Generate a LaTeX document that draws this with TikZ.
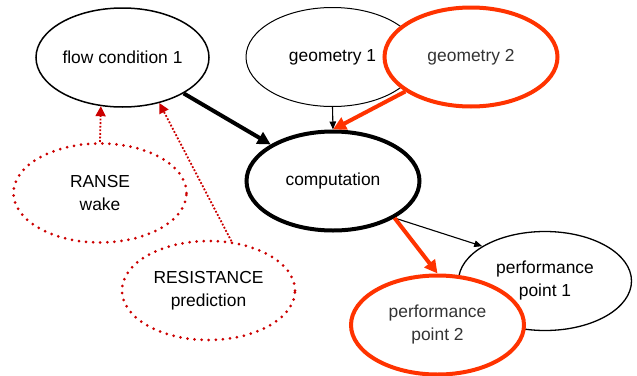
\documentclass[tikz,border=0pt]{standalone}
\usepackage{fontspec}
\setmainfont{Liberation Sans}
\usetikzlibrary{shapes.geometric,arrows.meta}
\definecolor{hot}{HTML}{FF3300}
\definecolor{study}{HTML}{CC0000}
\definecolor{pale}{HTML}{333333}

\begin{document}
\begin{tikzpicture}[x=1pt,y=-1pt,font=\fontsize{17.4}{23}\selectfont,
  bubble/.style={ellipse,draw,fill=white,minimum width=173pt,minimum height=99pt,inner sep=0pt,align=center},
  hotbubble/.style={bubble,draw=hot,line width=4pt,text=pale},
  dotbubble/.style={bubble,draw=study,line width=3pt,dash pattern=on 0pt off 7.1pt,line cap=round},
  heavy/.style={line width=4pt,-{Triangle[length=13pt,width=13pt]}},
  light/.style={line width=1.1pt,-{Triangle[length=8pt,width=6.5pt]}},
  feed/.style={study,line width=1.8pt,dash pattern=on 1.8pt off 1.8pt,-{Triangle[length=10pt,width=10pt]}}]
  \useasboundingbox (0,0) rectangle (637,375);

  \node[bubble,line width=1.5pt] (flow) at (122.5,57.5) {flow condition 1};
  \node[bubble,line width=1pt]   (geo1) at (332.5,57)   {geometry 1};
  \node[hotbubble]               (geo2) at (471,57)     {geometry 2};
  \node[bubble,line width=4pt]   (comp) at (333,181)    {computation};
  \node[dotbubble]               (ranse) at (100,193)   {RANSE\\wake};
  \node[dotbubble]               (resist) at (208.5,290.5) {RESISTANCE\\prediction};
  \node[bubble,line width=1.3pt] (pp1) at (545,281)     {performance\\point 1};
  \node[hotbubble]               (pp2) at (437.5,325)   {performance\\point 2};

  \draw[heavy] (flow) -- (comp);
  \draw[light] (geo1.south) -- (comp.north);
  \draw[heavy,hot] (geo2) -- (comp.north);
  \draw[light] (comp.-31) -- (pp1.151);
  \draw[heavy,hot] (comp.-31) -- (pp2.north);
  \draw[feed] (ranse.north) -- (flow.-114);
  \draw[feed] (resist.65) -- (flow.-51);
\end{tikzpicture}
\end{document}
